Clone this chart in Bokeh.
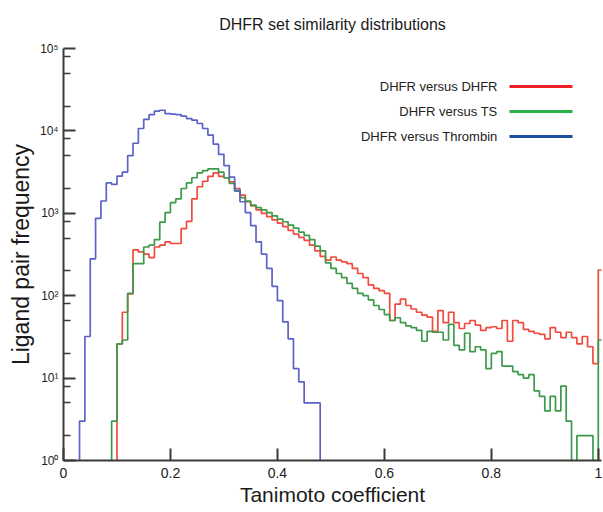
from bokeh.plotting import figure
from bokeh.models import FixedTicker, CustomJSTickFormatter, Label, BoxAnnotation
from bokeh.embed import file_html
from bokeh.resources import INLINE

# ---------------- data (histogram counts, bins of width 0.01 starting at 0) ----------------
BIN_WIDTH = 0.01

dhfr_vs_dhfr = [
    0, 0, 0, 0, 0, 0, 0, 0, 0, 0,
    26, 63, 105, 360, 340, 320, 290, 390, 410, 450,
    430, 430, 650, 800, 1500, 2100, 2450, 2800, 3100, 2800,
    2700, 2400, 2000, 1660, 1380, 1230, 1100, 1000, 910, 830,
    760, 690, 620, 560, 510, 470, 410, 350, 300, 270,
    295, 270, 257, 245, 214, 186, 166, 135, 123, 115,
    107, 50, 79, 91, 76, 69, 63, 58, 55, 37,
    66, 47, 63, 47, 40, 46, 50, 44, 38, 41,
    42, 40, 50, 28, 50, 47, 39, 37, 35, 34,
    30, 41, 36, 31, 36, 31, 26, 32, 24, 15,
    205,
]

dhfr_vs_ts = [
    0, 0, 0, 0, 0, 0, 0, 0, 0, 3,
    26, 29, 107, 245, 245, 390, 410, 480, 780, 1020,
    1350, 1500, 2000, 2340, 2700, 3100, 3300, 3470, 3470, 3160,
    2700, 2300, 1860, 1550, 1410, 1260, 1170, 1100, 1020, 930,
    850, 790, 720, 660, 590, 540, 480, 400, 350, 250,
    214, 186, 166, 141, 123, 107, 100, 89, 76, 68,
    59, 50, 54, 47, 43, 41, 38, 28, 37, 36,
    36, 29, 45, 25, 22, 35, 21, 24, 22, 13,
    20, 21, 14, 14, 12, 11, 10, 11, 7, 6,
    4, 6, 4, 8, 3, 0, 2, 2, 2, 0,
    29,
]

dhfr_vs_thrombin = [
    0, 0, 0, 3, 32, 280, 870, 1410, 2340, 2240,
    2820, 3160, 5010, 7080, 10700, 13800, 15800, 17400, 17800, 16200,
    16000, 15800, 15100, 14100, 13500, 12300, 10700, 8900, 6900, 5200,
    3800, 2750, 1900, 1380, 1020, 710, 450, 320, 215, 130,
    87, 48, 30, 13, 9, 5, 5, 5, 0, 0,
    0, 0, 0, 0, 0, 0, 0, 0, 0, 0,
    0, 0, 0, 0, 0, 0, 0, 0, 0, 0,
    0, 0, 0, 0, 0, 0, 0, 0, 0, 0,
    0, 0, 0, 0, 0, 0, 0, 0, 0, 0,
    0, 0, 0, 0, 0, 0, 0, 0, 0, 0,
    0,
]

title_text = "DHFR set similarity distributions"
series_names = ["DHFR versus DHFR", "DHFR versus TS", "DHFR versus Thrombin"]
x_ticks = [0, 0.2, 0.4, 0.6, 0.8, 1.0]
y_ticks = [1, 10, 100, 1000, 10000, 100000]
y_minor_ticks = [m * 10 ** d for d in range(5) for m in (2, 5, 8)]

# ---------------- styles ----------------
FONT = "Liberation Sans"
LINE_COLORS = ["#f04b3c", "#3c9a4a", "#5b62c8"]
LEGEND_COLORS = ["#ec2127", "#2ab04a", "#1c4f9c"]
FLOOR = 0.3  # drawing level for empty bins (below the visible range)


def step_path(counts):
    xs, ys = [0.0], [FLOOR]
    for i, c in enumerate(counts):
        y = c if c > 0 else FLOOR
        xs += [i * BIN_WIDTH, (i + 1) * BIN_WIDTH]
        ys += [y, y]
    xs.append(len(counts) * BIN_WIDTH)
    ys.append(FLOOR)
    return xs, ys


p = figure(
    width=603, height=512,
    y_axis_type="log",
    x_range=(0, 1.006), y_range=(1, 1e5),
    output_backend="svg", toolbar_location=None,
    min_border_left=63, min_border_right=2, min_border_top=48, min_border_bottom=52,
)
p.title.text = title_text
p.title.align = "center"
p.title.vertical_align = "top"
p.title.text_font = FONT
p.title.text_font_size = "16px"
p.title.text_font_style = "normal"
p.title.text_color = "#1a1a1a"
p.title.standoff = 27

p.outline_line_color = None
p.xgrid.visible = False
p.ygrid.visible = False
p.background_fill_color = "white"
p.border_fill_color = "white"

for counts, color in zip([dhfr_vs_dhfr, dhfr_vs_ts, dhfr_vs_thrombin], LINE_COLORS):
    xs, ys = step_path(counts)
    p.line(xs, ys, line_color=color, line_width=1.7)

# axes
for ax in (p.xaxis, p.yaxis):
    ax.axis_line_color = "#3a3a3a"
    ax.axis_line_width = 2
    ax.major_tick_line_color = "#3a3a3a"
    ax.major_tick_line_width = 2
    ax.major_tick_out = 0
    ax.major_tick_in = 12
    ax.axis_label_text_font = FONT
    ax.axis_label_text_font_style = "normal"
    ax.axis_label_text_color = "#1a1a1a"
    ax.major_label_text_font = FONT
    ax.major_label_text_color = "#222222"

p.xaxis.ticker = FixedTicker(ticks=x_ticks)
p.xaxis.formatter = CustomJSTickFormatter(
    code="return tick == 0 ? '0' : (tick == 1 ? '1' : tick.toFixed(1));")
p.xaxis.minor_tick_line_color = None
p.xaxis.major_label_text_font_size = "14px"
p.xaxis.major_label_standoff = 7
p.xaxis.axis_label = "Tanimoto coefficient"
p.xaxis.axis_label_text_font_size = "21px"
p.xaxis.axis_label_standoff = 2

p.yaxis.ticker = FixedTicker(ticks=y_ticks, minor_ticks=y_minor_ticks)
p.yaxis.formatter = CustomJSTickFormatter(
    code="const s = ['\u2070','\u00b9','\u00b2','\u00b3','\u2074','\u2075'];"
         "const e = Math.round(Math.log10(tick)); return '10' + s[e];")
p.yaxis.minor_tick_line_color = "#3a3a3a"
p.yaxis.minor_tick_line_width = 1.5
p.yaxis.minor_tick_in = 7
p.yaxis.minor_tick_out = 0
p.yaxis.major_label_text_font_size = "12px"
p.yaxis.major_label_standoff = 5
p.yaxis.axis_label = "Ligand pair frequency"
p.yaxis.axis_label_text_font_size = "23px"
p.yaxis.axis_label_standoff = 3

# legend (label on the left, line sample on the right), frame-relative screen units
LEG_TEXT_RIGHT = 434
LEG_LINE_LEFT, LEG_LINE_RIGHT = 446, 509
LEG_ROWS = [374, 349, 324]
for name, color, yy in zip(series_names, LEGEND_COLORS, LEG_ROWS):
    p.add_layout(Label(x=LEG_TEXT_RIGHT, y=yy, x_units="screen", y_units="screen",
                       text=name, text_align="right", text_baseline="middle",
                       text_font=FONT, text_font_size="13px", text_color="#222222"))
    p.add_layout(BoxAnnotation(left=LEG_LINE_LEFT, right=LEG_LINE_RIGHT,
                               bottom=yy - 1.5, top=yy + 1.5,
                               left_units="screen", right_units="screen",
                               bottom_units="screen", top_units="screen",
                               fill_color=color, fill_alpha=1.0,
                               line_color=None))

open("out.html", "w", encoding="utf-8").write(file_html(p, INLINE))
